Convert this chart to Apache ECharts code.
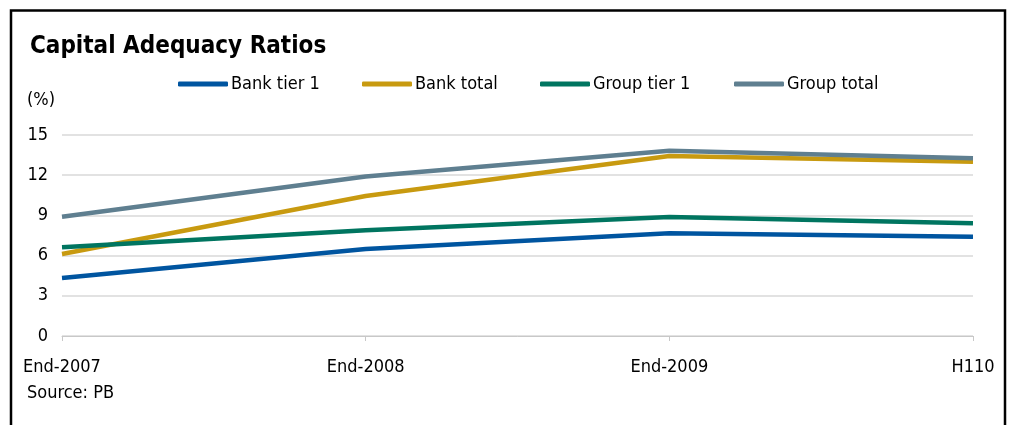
<!DOCTYPE html>
<html><head><meta charset="utf-8">
<script src="https://cdn.jsdelivr.net/npm/echarts@6/dist/echarts.min.js"></script>
<style>html,body{margin:0;padding:0;background:#fff}#c{width:1016px;height:425px}</style>
</head><body><div id="c"></div>
<script>
const categories = ['End-2007', 'End-2008', 'End-2009', 'H110'];
const bankTier1 = [4.33, 6.5, 7.66, 7.41];
const bankTotal = [6.12, 10.45, 13.43, 13.0];
const groupTier1 = [6.62, 7.9, 8.88, 8.41];
const groupTotal = [8.9, 11.9, 13.83, 13.26];
const yTicks = {min: 0, max: 15, interval: 3};

const FONT = '"DejaVu Sans Condensed", "DejaVu Sans", sans-serif';
const names = ['Bank tier 1', 'Bank total', 'Group tier 1', 'Group total'];
const colors = ['#0055A0', '#C89A10', '#007560', '#5F7F90'];
const dataSets = [bankTier1, bankTotal, groupTier1, groupTotal];
const legendLeft = [178, 362, 540, 734];

const chart = echarts.init(document.getElementById('c'));
chart.setOption({
  animation: false,
  textStyle: {fontFamily: FONT},
  title: {text: 'Capital Adequacy Ratios', left: 25, top: 30,
    textStyle: {fontFamily: FONT, fontSize: 24, fontWeight: 'bold', color: '#000'}},
  legend: names.map((n, i) => ({
    data: [n], left: legendLeft[i], top: 75, padding: 0, itemWidth: 50, itemHeight: 5,
    icon: 'roundRect',
    textStyle: {fontFamily: FONT, fontSize: 18, color: '#000', padding: [0, 0, 0, -2]}
  })),
  grid: {left: 62, right: 43, top: 135, bottom: 89, containLabel: false},
  xAxis: {
    type: 'category', data: categories, boundaryGap: false,
    axisLine: {lineStyle: {color: '#c8c8c8', width: 1}},
    axisTick: {show: true, length: 5, lineStyle: {color: '#c8c8c8'}},
    axisLabel: {color: '#000', fontSize: 18, fontFamily: FONT, margin: 22}
  },
  yAxis: {
    type: 'value', min: yTicks.min, max: yTicks.max, interval: yTicks.interval,
    name: '(%)', nameLocation: 'end', nameGap: 26,
    nameTextStyle: {color: '#000', fontSize: 18, fontFamily: FONT, align: 'left', padding: [0, 0, 0, -35]},
    axisLine: {show: false}, axisTick: {show: false},
    splitLine: {lineStyle: {color: '#d9d9d9', width: 1.5}},
    axisLabel: {color: '#000', fontSize: 18, fontFamily: FONT, margin: 14}
  },
  series: names.map((n, i) => ({
    name: n, type: 'line', data: dataSets[i], symbol: 'none',
    lineStyle: {color: colors[i], width: 4.5}, itemStyle: {color: colors[i]}
  })),
  graphic: [
    {type: 'polyline', shape: {points: [[11, 425], [11, 10.5], [1005, 10.5], [1005, 425]]},
     style: {stroke: '#000', lineWidth: 2.5, fill: null}},
    {type: 'text', left: 27, top: 384,
     style: {text: 'Source: PB', font: '18px ' + FONT, fill: '#000'}}
  ]
});
</script></body></html>
